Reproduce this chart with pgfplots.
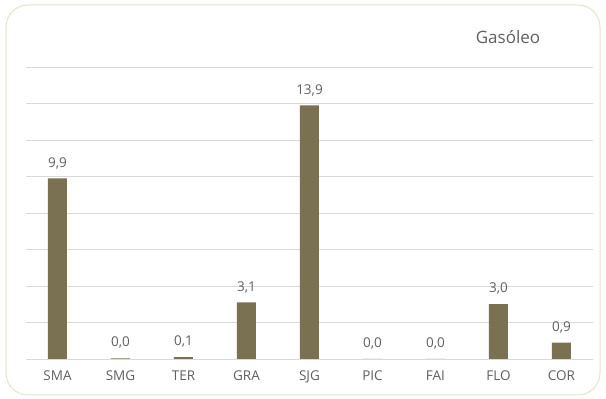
\documentclass[border=0pt]{standalone}
\usepackage{pgfplots}
\pgfplotsset{compat=1.18}
\usepackage{fontspec}
\setmainfont{Open Sans}
\definecolor{barc}{HTML}{7A7052}
\definecolor{gridc}{HTML}{D9D9D9}
\definecolor{txtc}{HTML}{5F5F5F}
\definecolor{framec}{HTML}{E6E2CC}
\begin{document}
\begin{tikzpicture}[x=1pt,y=1pt]
\useasboundingbox (0,0) rectangle (606,399);
\draw[framec, line width=1pt, rounded corners=22pt] (6,4) rectangle (600,394);
\node[txtc, font=\fontsize{17}{20}\selectfont] at (508,362) {Gasóleo};
\begin{axis}[
  at={(26pt,40pt)}, anchor=south west,
  scale only axis, width=567pt, height=292pt,
  xmin=-0.5, xmax=8.5, ymin=0, ymax=16,
  ytick={0,2,...,16}, yticklabels={},
  ymajorgrids, grid style={gridc, line width=0.9pt},
  axis line style={draw=none},
  major tick length=0pt,
  xtick=data,
  xticklabels={SMA,SMG,TER,GRA,SJG,PIC,FAI,FLO,COR},
  xticklabel style={txtc, font=\fontsize{13.5}{16}\selectfont, yshift=-8pt},
  /pgf/number format/assume math mode=true,
  ybar, bar width=19pt,
  nodes near coords,
  nodes near coords style={txtc, font=\fontsize{13.5}{16}\selectfont, yshift=6pt,
    /pgf/number format/.cd, fixed, fixed zerofill, precision=1, use comma, assume math mode=true},
  clip=false,
]
\addplot[fill=barc, draw=none] coordinates {
 (0,9.9) (1,0.04) (2,0.1) (3,3.1) (4,13.9) (5,0) (6,0) (7,3.0) (8,0.9)};
\end{axis}
\end{tikzpicture}
\end{document}
